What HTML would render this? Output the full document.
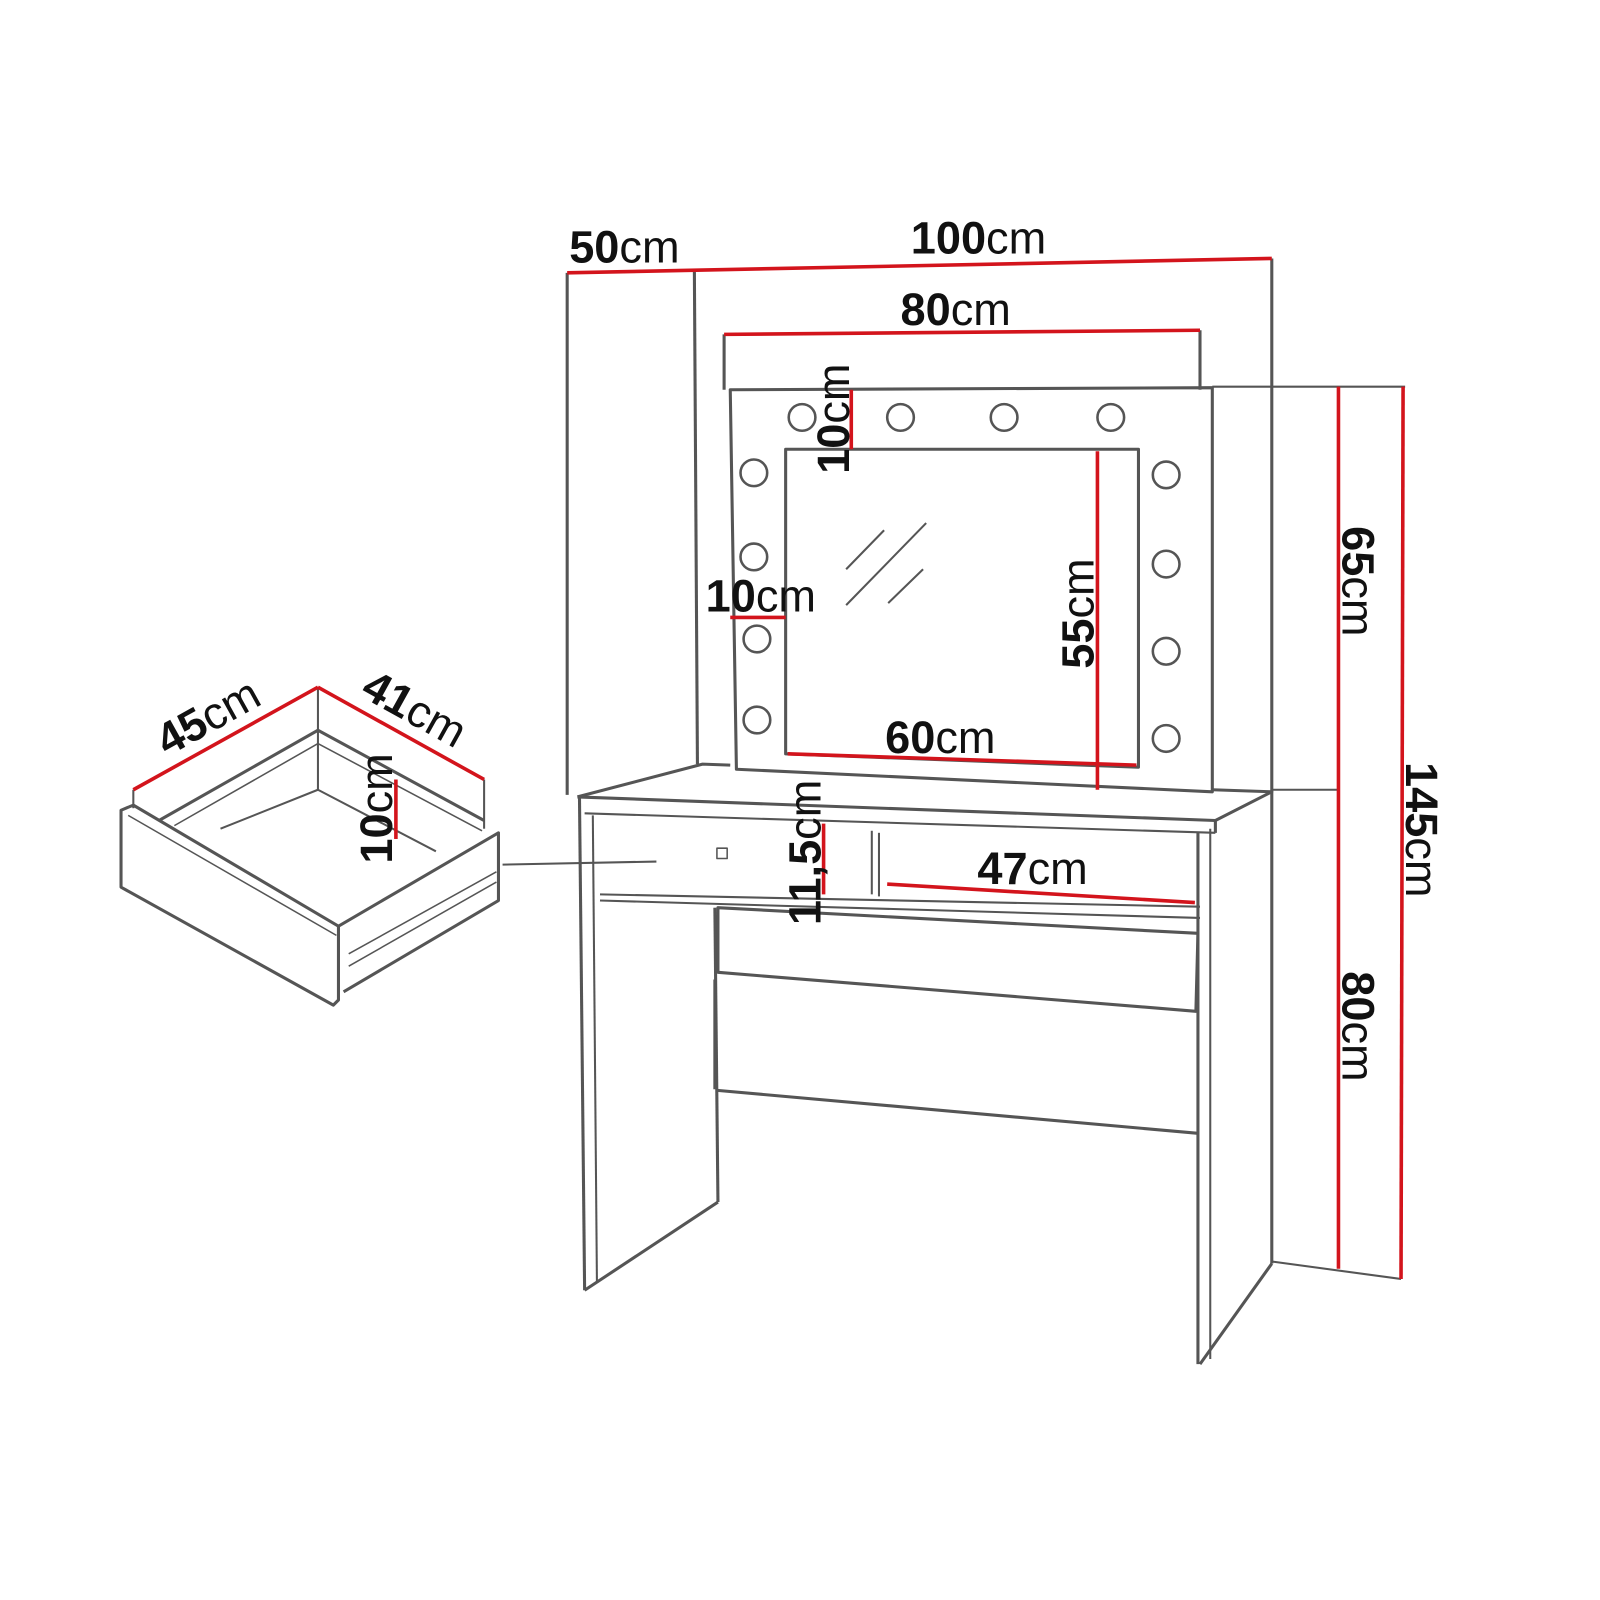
<!DOCTYPE html>
<html><head><meta charset="utf-8"><style>
html,body{margin:0;padding:0;background:#fff;}
svg{display:block;}
text{font-family:"Liberation Sans",sans-serif;font-size:44px;fill:#111;}
.b{font-weight:bold;}
</style></head><body>
<svg width="1600" height="1600" viewBox="0 0 1560 1560" xmlns="http://www.w3.org/2000/svg">
<g fill="none" stroke="#555" stroke-width="3" stroke-linejoin="round">
<line x1="553" y1="266" x2="553" y2="775"/>
<line x1="677" y1="262" x2="680" y2="745"/>
<line x1="1240" y1="252" x2="1240" y2="1232"/>
<line x1="706" y1="326" x2="706" y2="380"/>
<line x1="1170" y1="322" x2="1170" y2="380"/>
<path d="M712 380 L1182 378 L1182 772 L718 750 Z"/>
<path d="M766 438 L1110 438 L1110 748 L766 735 Z"/>
<line x1="1182" y1="377" x2="1370" y2="377" stroke-width="2"/>
<line x1="1240" y1="770" x2="1305" y2="770" stroke-width="2"/>
<line x1="1240" y1="1230" x2="1366" y2="1247" stroke-width="2"/>
<line x1="825" y1="555" x2="862" y2="517" stroke-width="2"/>
<line x1="825" y1="590" x2="903" y2="510" stroke-width="2"/>
<line x1="866" y1="588" x2="900" y2="555" stroke-width="2"/>
<g stroke-width="2.5">
<circle cx="782" cy="407" r="13"/><circle cx="878" cy="407" r="13"/><circle cx="979" cy="407" r="13"/><circle cx="1083" cy="407" r="13"/>
<circle cx="735" cy="461" r="13"/><circle cx="735" cy="543" r="13"/><circle cx="738" cy="623" r="13"/><circle cx="738" cy="702" r="13"/>
<circle cx="1137" cy="463" r="13"/><circle cx="1137" cy="550" r="13"/><circle cx="1137" cy="635" r="13"/><circle cx="1137" cy="720" r="13"/>
</g>
<path d="M563 777 L685 745 L712 746"/>
<path d="M1182 770 L1240 772 L1185 800 L1185 812"/>
<line x1="563" y1="777" x2="1185" y2="800"/>
<line x1="570" y1="793" x2="1185" y2="812" stroke-width="2"/>
<line x1="565" y1="778" x2="570" y2="1258"/>
<line x1="578" y1="795" x2="582" y2="1250" stroke-width="2"/>
<line x1="570" y1="1258" x2="700" y2="1172"/>
<line x1="697" y1="885" x2="700" y2="1172"/>
<line x1="585" y1="872" x2="1170" y2="884" stroke-width="2"/>
<line x1="585" y1="878" x2="1170" y2="895" stroke-width="2"/>
<line x1="850" y1="810" x2="850" y2="872" stroke-width="2"/>
<line x1="857" y1="812" x2="857" y2="874" stroke-width="2"/>
<rect x="699" y="827" width="10" height="10" stroke-width="1.5"/>
<path d="M700 885 L1168 910 L1166 986 L700 948 Z"/>
<line x1="697" y1="955" x2="697" y2="1062"/>
<line x1="698" y1="1063" x2="1168" y2="1105"/>
<line x1="1168" y1="812" x2="1168" y2="1330"/>
<line x1="1180" y1="808" x2="1180" y2="1325" stroke-width="2"/>
<line x1="1170" y1="1330" x2="1240" y2="1232"/>
<line x1="490" y1="843" x2="640" y2="840" stroke-width="2"/>
<path d="M118 790 L130 785 L330 903 L330 975 L325 980 L118 865 Z"/>
<path d="M330 903 L486 812 L486 878 L335 967"/>
<path d="M155 800 L310 712 L472 800" />
<path d="M170 805 L310 725 L470 810" stroke-width="1.5"/>
<path d="M215 808 L310 770 L425 830" stroke-width="2"/>
<line x1="310" y1="670" x2="310" y2="770" stroke-width="2"/>
<line x1="130" y1="770" x2="130" y2="788" stroke-width="2"/>
<line x1="472" y1="760" x2="472" y2="808" stroke-width="2"/>
<line x1="125" y1="795" x2="328" y2="912" stroke-width="1.5"/>
<line x1="340" y1="930" x2="484" y2="850" stroke-width="1.5"/>
<line x1="340" y1="942" x2="484" y2="860" stroke-width="1.5"/>
</g>
<g stroke="#d3141c" stroke-width="3.5" fill="none">
<line x1="553" y1="266" x2="1240" y2="252"/>
<line x1="706" y1="326" x2="1170" y2="322"/>
<line x1="830" y1="380" x2="830" y2="438"/>
<line x1="712" y1="602" x2="766" y2="602"/>
<line x1="1070" y1="440" x2="1070" y2="770"/>
<line x1="768" y1="735" x2="1108" y2="746"/>
<line x1="1305" y1="377" x2="1305" y2="1237"/>
<line x1="1368" y1="377" x2="1366" y2="1247"/>
<line x1="803" y1="803" x2="803" y2="872"/>
<line x1="865" y1="862" x2="1165" y2="880"/>
<line x1="130" y1="770" x2="310" y2="670"/>
<line x1="310" y1="670" x2="472" y2="760"/>
<line x1="386" y1="760" x2="386" y2="818"/>
</g>
<text x="555" y="256"><tspan class="b">50</tspan>cm</text>
<text x="888" y="247"><tspan class="b">100</tspan>cm</text>
<text x="878" y="317"><tspan class="b">80</tspan>cm</text>
<text x="688" y="596"><tspan class="b">10</tspan>cm</text>
<text x="863" y="734"><tspan class="b">60</tspan>cm</text>
<text x="953" y="862"><tspan class="b">47</tspan>cm</text>
<text transform="translate(828,462) rotate(-90)"><tspan class="b">10</tspan>cm</text>
<text transform="translate(1066,652) rotate(-90)"><tspan class="b">55</tspan>cm</text>
<text transform="translate(800,902) rotate(-90)"><tspan class="b">11,5</tspan>cm</text>
<text transform="translate(382,842) rotate(-90)"><tspan class="b">10</tspan>cm</text>
<text transform="translate(1309,513) rotate(90)"><tspan class="b">65</tspan>cm</text>
<text transform="translate(1309,947) rotate(90)"><tspan class="b">80</tspan>cm</text>
<text transform="translate(1371,743) rotate(90)"><tspan class="b">145</tspan>cm</text>
<text transform="translate(163,738) rotate(-29)"><tspan class="b">45</tspan>cm</text>
<text transform="translate(350,678) rotate(29)"><tspan class="b">41</tspan>cm</text>
</svg>
</body></html>
